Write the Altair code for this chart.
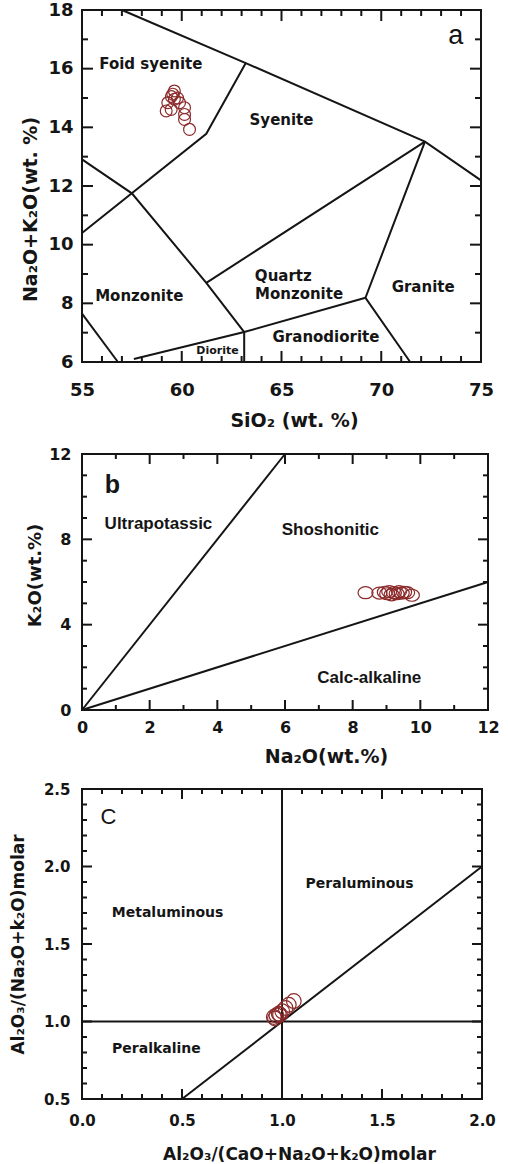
import altair as alt
import pandas as pd

FONT = "DejaVu Sans"
SANS = "Liberation Sans"
INK = "#151515"
RED = "#8B2A2A"

# ---------------- Panel a : SiO2 vs Na2O+K2O ----------------
a_sio2 = [59.55, 59.63, 59.48, 59.30, 59.22, 59.47, 59.63, 59.79, 59.89, 60.14, 60.14, 60.14, 60.39]
a_alk = [15.13, 15.24, 15.05, 14.84, 14.56, 14.61, 14.96, 15.00, 14.84, 14.67, 14.44, 14.27, 13.93]

a_top_x = [57.0, 63.21, 72.19, 75.0]
a_top_y = [18.0, 16.19, 13.51, 12.19]
a_foid_x = [63.21, 61.23, 55.0]
a_foid_y = [16.19, 13.78, 10.40]
a_monz_x = [55.0, 57.5, 61.23, 63.13, 63.13]
a_monz_y = [12.91, 11.75, 8.70, 7.02, 6.0]
a_qm_x = [61.23, 72.19]
a_qm_y = [8.70, 13.51]
a_gran_x = [72.19, 69.21, 71.45]
a_gran_y = [13.51, 8.19, 6.0]
a_gd_x = [57.6, 63.13, 69.21]
a_gd_y = [6.1, 7.02, 8.19]
a_ll_x = [55.0, 56.8]
a_ll_y = [7.65, 6.0]

a_names = ["Foid syenite", "Syenite", "Quartz", "Monzonite", "Granite", "Monzonite", "Granodiorite"]
a_names_x = [58.45, 65.0, 65.09, 65.88, 72.1, 57.87, 67.23]
a_names_y = [16.17, 14.25, 8.93, 8.31, 8.56, 8.25, 6.86]
a_small = ["Diorite"]
a_small_x = [61.79]
a_small_y = [6.37]
a_tag = ["a"]
a_tag_x = [73.74]
a_tag_y = [17.11]

a_xmaj = [55, 60, 65, 70, 75]
a_xmin = [56, 57, 58, 59, 61, 62, 63, 64, 66, 67, 68, 69, 71, 72, 73, 74]
a_ymaj = [6, 8, 10, 12, 14, 16, 18]
a_ymin = [7, 9, 11, 13, 15, 17]

# ---------------- Panel b : Na2O vs K2O ----------------
b_na2o = [8.38, 8.79, 8.95, 9.02, 9.08, 9.15, 9.22, 9.30, 9.37, 9.45, 9.52, 9.61, 9.75]
b_k2o = [5.50, 5.48, 5.52, 5.45, 5.55, 5.40, 5.50, 5.45, 5.55, 5.48, 5.52, 5.50, 5.38]

b_ultra_x = [0, 6]
b_ultra_y = [0, 12]
b_calc_x = [0, 12]
b_calc_y = [0, 6]

b_names = ["Ultrapotassic", "Shoshonitic", "Calc-alkaline"]
b_names_x = [2.26, 7.34, 8.49]
b_names_y = [8.72, 8.44, 1.51]
b_tag = ["b"]
b_tag_x = [0.9]
b_tag_y = [10.55]

b_xmaj = [0, 2, 4, 6, 8, 10, 12]
b_xmin = [1, 3, 5, 7, 9, 11]
b_ymaj = [0, 4, 8, 12]
b_ymin = [1, 2, 3, 5, 6, 7, 9, 10, 11]

# ---------------- Panel c : A/CNK vs A/NK ----------------
c_acnk = [0.959, 0.972, 0.984, 1.001, 1.018, 1.034, 1.059, 0.965, 0.990]
c_ank = [1.029, 1.040, 1.050, 1.066, 1.087, 1.108, 1.132, 1.020, 1.045]

c_v_x = [1.0, 1.0]
c_v_y = [0.5, 2.5]
c_h_x = [0.0, 2.0]
c_h_y = [1.0, 1.0]
c_d_x = [0.5, 2.0]
c_d_y = [0.5, 2.0]

c_names = ["Metaluminous", "Peraluminous", "Peralkaline"]
c_names_x = [0.428, 1.388, 0.372]
c_names_y = [1.70, 1.889, 0.825]
c_tag = ["C"]
c_tag_x = [0.132]
c_tag_y = [2.32]

c_xmaj = [0.0, 0.5, 1.0, 1.5, 2.0]
c_xmin = [0.1, 0.2, 0.3, 0.4, 0.6, 0.7, 0.8, 0.9, 1.1, 1.2, 1.3, 1.4, 1.6, 1.7, 1.8, 1.9]
c_ymaj = [0.5, 1.0, 1.5, 2.0, 2.5]
c_ymin = [0.6, 0.7, 0.8, 0.9, 1.1, 1.2, 1.3, 1.4, 1.6, 1.7, 1.8, 1.9, 2.1, 2.2, 2.3, 2.4]


def lines_df(segs):
    rows = []
    for k, (xs, ys) in enumerate(segs):
        for i, (x, y) in enumerate(zip(xs, ys)):
            rows.append({"seg": "s%d" % k, "ord": i, "x": float(x), "y": float(y)})
    return pd.DataFrame(rows)


def tick_segs(w, h, xdom, ydom, xmaj, xmin, ymaj, ymin, lmaj, lmin):
    """Inward tick segments on all four sides: tick values from the axis lists,
    tick lengths given in pixels and converted to data units."""
    kx = (xdom[1] - xdom[0]) / w
    ky = (ydom[1] - ydom[0]) / h
    segs = []
    for vals, ln in [(xmaj, lmaj), (xmin, lmin)]:
        for v in vals:
            segs.append(([v, v], [ydom[0], ydom[0] + ln * ky]))
            segs.append(([v, v], [ydom[1], ydom[1] - ln * ky]))
    for vals, ln in [(ymaj, lmaj), (ymin, lmin)]:
        for v in vals:
            segs.append(([xdom[0], xdom[0] + ln * kx], [v, v]))
            segs.append(([xdom[1], xdom[1] - ln * kx], [v, v]))
    return segs


def text_layer(names, xs, ys, sx, sy, font, size, weight):
    df = pd.DataFrame({"t": names, "x": xs, "y": ys})
    return alt.Chart(df).mark_text(font=font, fontSize=size, fontWeight=weight, color=INK,
                                   align="center", baseline="middle").encode(
        x=alt.X("x:Q", scale=sx, axis=None), y=alt.Y("y:Q", scale=sy, axis=None), text="t:N")


def panel(w, h, xdom, ydom, pts, shape, psize, bounds, texts, xmaj, xmin, ymaj, ymin,
          fmt, lab_fs, xtitle, ytitle, tfs_x, tfs_y, x_lpad, y_lpad, x_tpad, y_tpad,
          title_x, title_y, tmaj, tmin):
    sx = alt.Scale(domain=xdom, nice=False, zero=False)
    sy = alt.Scale(domain=ydom, nice=False, zero=False)
    segs = list(bounds) + tick_segs(w, h, xdom, ydom, xmaj, xmin, ymaj, ymin, tmaj, tmin)
    layers = [
        alt.Chart(lines_df(segs)).mark_line(color=INK, strokeWidth=2).encode(
            x=alt.X("x:Q", scale=sx, axis=None), y=alt.Y("y:Q", scale=sy, axis=None),
            detail="seg:N", order="ord:Q"),
    ]
    for names, xs, ys, font, size, weight in texts:
        layers.append(text_layer(names, xs, ys, sx, sy, font, size, weight))
    xaxis = alt.Axis(orient="bottom", values=xmaj, format=fmt, ticks=False, tickSize=0,
                     domain=False, grid=False, labelFont=FONT, labelFontSize=lab_fs,
                     labelFontWeight="bold", labelColor=INK, labelPadding=x_lpad,
                     labelFlush=False, labelOverlap=False, title=xtitle, titleFont=FONT,
                     titleFontSize=tfs_x, titleFontWeight="bold", titleColor=INK,
                     titlePadding=x_tpad, titleX=title_x)
    yaxis = alt.Axis(orient="left", values=ymaj, format=fmt, ticks=False, tickSize=0,
                     domain=False, grid=False, labelFont=FONT, labelFontSize=lab_fs,
                     labelFontWeight="bold", labelColor=INK, labelPadding=y_lpad,
                     labelFlush=False, labelOverlap=False, title=ytitle, titleFont=FONT,
                     titleFontSize=tfs_y, titleFontWeight="bold", titleColor=INK,
                     titlePadding=y_tpad, titleY=title_y)
    layers.append(alt.Chart(pts).mark_point(shape=shape, size=psize, filled=False,
                                            color=RED, strokeWidth=1.2, opacity=1).encode(
        x=alt.X("x:Q", scale=sx, axis=xaxis), y=alt.Y("y:Q", scale=sy, axis=yaxis)))
    return alt.layer(*layers).resolve_axis(x="independent", y="independent").properties(
        width=w, height=h)


ELLIPSE = "M-1,0A1,0.8,0,1,0,1,0A1,0.8,0,1,0,-1,0Z"

pa = panel(
    399, 352, [55, 75], [6, 18],
    pd.DataFrame({"x": a_sio2, "y": a_alk}), "circle", 140,
    [(a_top_x, a_top_y), (a_foid_x, a_foid_y), (a_monz_x, a_monz_y), (a_qm_x, a_qm_y),
     (a_gran_x, a_gran_y), (a_gd_x, a_gd_y), (a_ll_x, a_ll_y)],
    [(a_names, a_names_x, a_names_y, FONT, 15, "bold"),
     (a_small, a_small_x, a_small_y, FONT, 11, "bold"),
     (a_tag, a_tag_x, a_tag_y, SANS, 27, "normal")],
    a_xmaj, a_xmin, a_ymaj, a_ymin, "d", 18,
    "SiO₂ (wt. %)", "Na₂O+K₂O(wt. %)", 19, 19, 19, 9, 12, 7, 212, 199, 11, 6)

pb = panel(
    406, 256, [0, 12], [0, 12],
    pd.DataFrame({"x": b_na2o, "y": b_k2o}), ELLIPSE, 225,
    [(b_ultra_x, b_ultra_y), (b_calc_x, b_calc_y)],
    [(b_names, b_names_x, b_names_y, SANS, 17, "bold"),
     (b_tag, b_tag_x, b_tag_y, SANS, 25, "bold")],
    b_xmaj, b_xmin, b_ymaj, b_ymin, "d", 16,
    "Na₂O(wt.%)", "K₂O(wt.%)", 19, 18, 9, 11, 12, 4, 244, 121, 10, 5)

pc = panel(
    400, 310, [0, 2], [0.5, 2.5],
    pd.DataFrame({"x": c_acnk, "y": c_ank}), "circle", 215,
    [(c_v_x, c_v_y), (c_h_x, c_h_y), (c_d_x, c_d_y)],
    [(c_names, c_names_x, c_names_y, FONT, 14, "bold"),
     (c_tag, c_tag_x, c_tag_y, SANS, 22, "normal")],
    c_xmaj, c_xmin, c_ymaj, c_ymin, ".1f", 15,
    "Al₂O₃/(CaO+Na₂O+k₂O)molar", "Al₂O₃/(Na₂O+k₂O)molar", 17, 17, 14, 12, 18, 16, 217, 155, 10, 5)

chart = alt.vconcat(pa, pb, pc, spacing=14).properties(
    padding={"left": 8, "top": 0, "right": 0, "bottom": 0}
).configure_view(stroke=INK, strokeWidth=2)

chart.save("out.html", embed_options={"renderer": "svg", "actions": False})
